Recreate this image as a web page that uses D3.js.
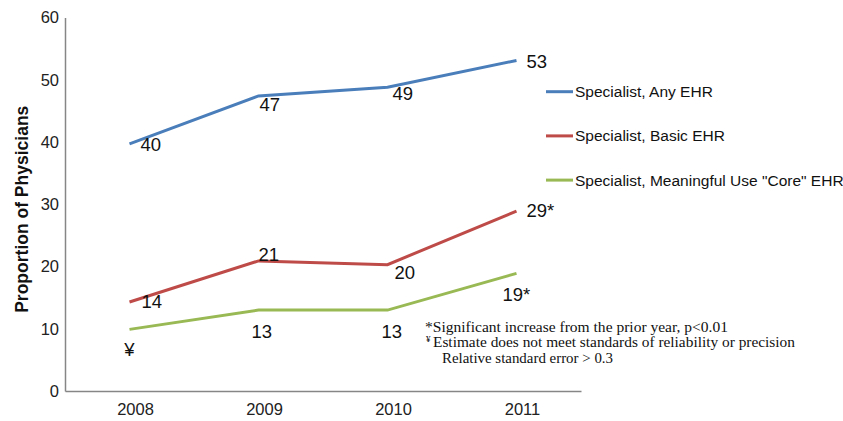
<!DOCTYPE html>
<html>
<head>
<meta charset="utf-8">
<script src="https://cdn.jsdelivr.net/npm/d3@7"></script>
<style>
  body { margin: 0; background: #fff; }
  svg { display: block; }
</style>
</head>
<body>
<svg id="chart" width="843" height="421"></svg>
<script>
// ---- data ----
const years = ["2008", "2009", "2010", "2011"];
const anyEHR = [39.7, 47.4, 48.8, 53.1];
const basicEHR = [14.3, 20.9, 20.3, 28.9];
const coreEHR = [9.9, 13.0, 13.0, 18.9];
const anyLabels = ["40", "47", "49", "53"];
const basicLabels = ["14", "21", "20", "29*"];
const coreLabels = ["¥", "13", "13", "19*"];
const seriesNames = ["Specialist, Any EHR", "Specialist, Basic EHR", "Specialist, Meaningful Use \"Core\" EHR"];
const yTicks = [0, 10, 20, 30, 40, 50, 60];
const yTitle = "Proportion of Physicians";
const footnotes = ["*Significant increase  from the prior year, p<0.01", "Estimate does not meet standards of reliability  or precision", "Relative standard error > 0.3"];

// ---- layout / style ----
const colors = ["#4A7EBB", "#BE4B48", "#98B954"];
// label offsets [dx, dy] from the point (left edge / baseline)
const placements = [
  [[11, 6.7], [1, 15], [5, 12.3], [10, 8]],
  [[12, 6.3], [0, 0], [7, 14], [10, 6.3]],
  [[0, 27, "middle"], [-7, 27.7], [-6, 27.7], [-14, 27.7]]
];

const svg = d3.select("#chart");
const x0 = 65, x1 = 581, yTop = 17.5, yBot = 391;

const x = d3.scaleBand().domain(years).range([x0, x1]);
const y = d3.scaleLinear().domain([0, 60]).range([yBot, yTop]);
const cx = d => x(d) + x.bandwidth() / 2;

// axes
const axisColor = "#868686";
const yAxis = svg.append("g").attr("transform", `translate(${x0},0)`)
  .call(d3.axisLeft(y).tickValues(yTicks).tickSize(0).tickPadding(6));
yAxis.select(".domain").attr("stroke", axisColor).attr("stroke-width", 1.5);
yAxis.selectAll("text").attr("font-family", "Liberation Sans, Arial, sans-serif")
  .attr("font-size", 16.5).attr("fill", "#222");

const xAxis = svg.append("g").attr("transform", `translate(0,${yBot})`)
  .call(d3.axisBottom(x).tickSize(0).tickPadding(12));
xAxis.select(".domain").attr("stroke", axisColor).attr("stroke-width", 1.5);
xAxis.selectAll("text").attr("font-family", "Liberation Sans, Arial, sans-serif")
  .attr("font-size", 16.5).attr("fill", "#222").attr("dx", 6).attr("dy", "0.75em");

// y title
svg.append("text")
  .attr("transform", `translate(28,${(yTop + yBot) / 2 + 5}) rotate(-90)`)
  .attr("text-anchor", "middle")
  .attr("font-family", "Liberation Sans, Arial, sans-serif")
  .attr("font-weight", "bold").attr("font-size", 17.5).attr("fill", "#111")
  .text(yTitle);

// lines
const allSeries = [anyEHR, basicEHR, coreEHR];
const allLabels = [anyLabels, basicLabels, coreLabels];
const line = d3.line().x((d, i) => cx(years[i])).y(d => y(d));

allSeries.forEach((s, si) => {
  svg.append("path").datum(s)
    .attr("d", line).attr("fill", "none")
    .attr("stroke", colors[si]).attr("stroke-width", 3);
  const g = svg.append("g");
  s.forEach((v, i) => {
    const p = placements[si][i];
    g.append("text")
      .attr("x", cx(years[i]) + p[0])
      .attr("y", y(v) + p[1])
      .attr("text-anchor", p[2] || "start")
      .attr("font-family", "Liberation Sans, Arial, sans-serif")
      .attr("font-size", 18.5).attr("fill", "#111")
      .text(allLabels[si][i]);
  });
});

// legend
const legend = svg.append("g");
seriesNames.forEach((n, i) => {
  const ly = 91.7 + i * 44.2;
  legend.append("line").attr("x1", 546).attr("x2", 573).attr("y1", ly).attr("y2", ly)
    .attr("stroke", colors[i]).attr("stroke-width", 3);
  legend.append("text").attr("x", 575).attr("y", ly).attr("dy", "0.35em")
    .attr("font-family", "Liberation Sans, Arial, sans-serif")
    .attr("font-size", 15.5).attr("fill", "#111").text(n);
});

// footnotes
const fn = svg.append("g").attr("font-family", "Liberation Serif, Times New Roman, serif")
  .attr("fill", "#111");
fn.append("text").attr("x", 425).attr("y", 331.5).attr("font-size", 14)
  .attr("textLength", 303).attr("lengthAdjust", "spacingAndGlyphs").text(footnotes[0]);
fn.append("text").attr("x", 426).attr("y", 342).attr("font-size", 9).text("¥");
fn.append("text").attr("x", 433).attr("y", 347).attr("font-size", 14)
  .attr("textLength", 362).attr("lengthAdjust", "spacingAndGlyphs").text(footnotes[1]);
fn.append("text").attr("x", 442).attr("y", 362.5).attr("font-size", 14)
  .attr("textLength", 171).attr("lengthAdjust", "spacingAndGlyphs").text(footnotes[2]);
</script>
</body>
</html>
